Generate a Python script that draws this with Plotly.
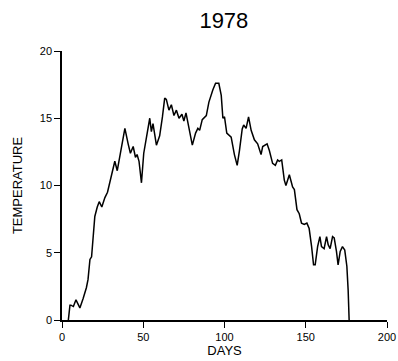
import plotly.graph_objects as go

days = [3.9, 4.9, 5.5, 7.0, 8.6, 10.0, 11.0, 13.0, 15.0, 16.0, 17.2, 18.2, 19.2, 20.2, 21.7,
        22.9, 24.5, 26.4, 28.0, 29.4, 31.5, 32.5, 34.0, 35.6, 38.7, 40.7, 42.1, 43.8, 45.2,
        46.2, 47.4, 48.9, 50.3, 52.0, 54.0, 55.0, 56.0, 58.1, 60.1, 61.8, 63.2, 64.2, 65.8,
        67.3, 68.9, 70.4, 72.0, 73.8, 75.0, 76.3, 78.5, 80.2, 82.2, 83.6, 84.7, 86.3, 88.8,
        90.4, 92.8, 94.5, 96.5, 98.0, 99.0, 100.0, 101.4, 103.0, 104.1, 106.1, 107.8, 109.2,
        110.9, 111.8, 113.3, 114.8, 116.4, 118.4, 120.4, 122.5, 123.5, 126.2, 127.6, 129.6,
        131.3, 132.7, 133.7, 135.2, 136.8, 137.8, 139.9, 141.9, 143.0, 144.6, 146.0, 147.4,
        149.1, 150.7, 152.1, 153.6, 154.8, 155.8, 157.3, 158.7, 159.7, 161.3, 162.8, 163.8,
        165.0, 166.5, 167.5, 168.9, 169.9, 171.2, 172.6, 174.0, 175.3, 176.1, 176.7]
temperature = [0.0, 1.1, 1.1, 1.0, 1.5, 1.1, 0.9, 1.6, 2.4, 3.0, 4.5, 4.7, 6.2, 7.7, 8.4,
               8.8, 8.4, 9.1, 9.5, 10.3, 11.5, 11.8, 11.1, 12.2, 14.25, 13.1, 12.4, 12.9, 12.1,
               12.3, 11.8, 10.2, 12.4, 13.6, 15.0, 14.0, 14.6, 13.0, 13.7, 15.1, 16.5, 16.4, 15.6,
               16.0, 15.2, 15.6, 15.0, 15.3, 14.8, 15.4, 13.9, 13.0, 13.9, 14.25, 14.1, 14.9, 15.2,
               16.2, 17.1, 17.6, 17.6, 16.7, 15.0, 15.1, 13.9, 13.75, 13.6, 12.3, 11.5, 12.6,
               14.2, 14.5, 14.25, 15.1, 14.1, 13.4, 13.1, 12.3, 12.9, 13.1, 12.6, 11.65,
               11.5, 11.9, 11.8, 11.9, 10.4, 10.0, 10.8, 9.9, 9.7, 8.2, 7.9, 7.2,
               7.1, 7.2, 6.8, 5.45, 4.1, 4.1, 5.45, 6.2, 5.45, 5.3, 6.2, 5.6,
               5.3, 6.2, 6.1, 5.1, 4.1, 5.1, 5.45, 5.2, 4.0, 2.2, 0.0]

x_ticks = [0, 50, 100, 150, 200]
y_ticks = [0, 5, 10, 15, 20]

fig = go.Figure()
fig.add_trace(go.Scatter(x=days, y=temperature, mode="lines",
                         line=dict(color="black", width=1.5), showlegend=False,
                         hoverinfo="skip"))

font = "Liberation Sans, Arial, sans-serif"
fig.update_layout(
    width=398, height=361,
    margin=dict(l=62, r=11, t=51, b=41, autoexpand=False),
    paper_bgcolor="white", plot_bgcolor="white",
    font=dict(family=font, color="black"),
    title=dict(text="1978", x=0.5625, xanchor="center", y=0.945, yanchor="middle",
               automargin=False,
               font=dict(size=22, family=font, color="black")),
    xaxis=dict(range=[0, 200], tickvals=x_ticks, ticks="outside", ticklen=6,
               tickwidth=1.2, tickcolor="black", showline=True, linecolor="black",
               linewidth=1.5, showgrid=False, zeroline=False, automargin=False,
               tickfont=dict(size=11),
               title=dict(text="DAYS", font=dict(size=13), standoff=2)),
    yaxis=dict(range=[0, 20], tickvals=y_ticks, ticks="outside", ticklen=6,
               tickwidth=1.2, tickcolor="black", showline=True, linecolor="black",
               linewidth=1.5, showgrid=False, zeroline=False, automargin=False,
               tickfont=dict(size=11),
               title=dict(text="TEMPERATURE", font=dict(size=13), standoff=14)),
)

fig.write_html("out.html")
